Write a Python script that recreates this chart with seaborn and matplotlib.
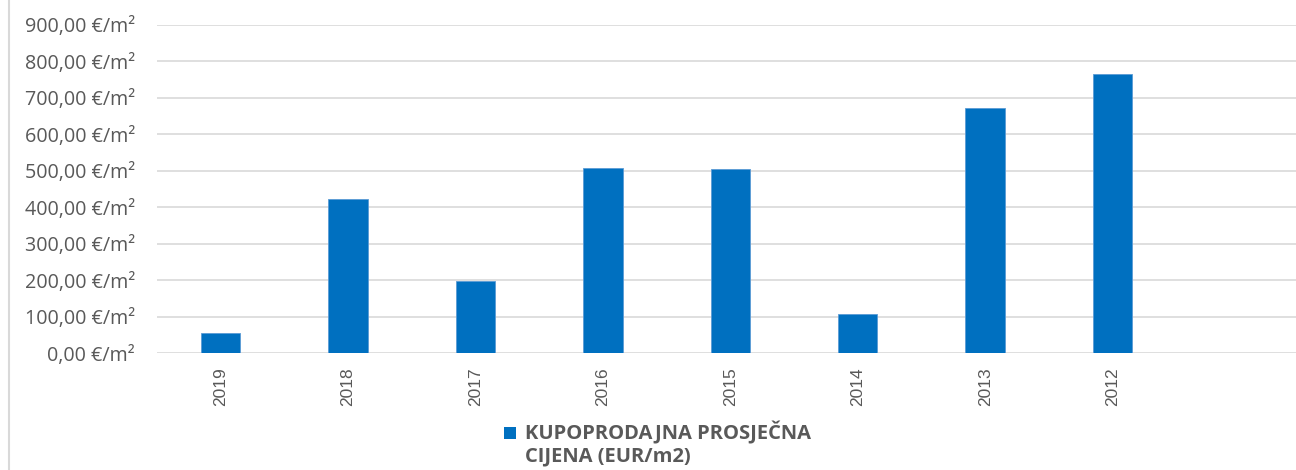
import matplotlib
matplotlib.use("Agg")
import matplotlib.pyplot as plt
import pandas as pd
import seaborn as sns
from matplotlib.lines import Line2D
from matplotlib.patches import Rectangle

# Data
years = ["2019", "2018", "2017", "2016", "2015", "2014", "2013", "2012"]
prices = [56.5, 423, 198, 507, 504, 107.5, 671.5, 766.5]
y_ticks = [0, 100, 200, 300, 400, 500, 600, 700, 800, 900]
series_label = "KUPOPRODAJNA PROSJEČNA\nCIJENA (EUR/m2)"

bar_color = "#0070C0"
text_color = "#595959"

df = pd.DataFrame({"year": years, "price": prices})

sns.set_style("white")
plt.rcParams["font.family"] = ["Open Sans", "DejaVu Sans"]

fig = plt.figure(figsize=(12.96, 4.70), dpi=100)
ax = fig.add_axes([157 / 1296, 1 - 353.3 / 470, 1 - 157 / 1296, (353.3 - 25) / 470])

sns.barplot(data=df, x="year", y="price", color=bar_color, width=0.31,
            saturation=1, edgecolor="#5B9BD5", linewidth=0.6, ax=ax)

ax.set_ylim(0, 900)
ax.set_xlim(-0.5, 8.44)
ax.set_yticks(y_ticks)
ax.set_yticklabels([f"{v},00 €/m²" for v in y_ticks], color=text_color, fontsize=14.2)
ax.yaxis.grid(True, color="#D9D9D9", linewidth=1.2)
ax.set_axisbelow(True)
for s in ax.spines.values():
    s.set_visible(False)
ax.tick_params(axis="both", length=0)
ax.tick_params(axis="y", pad=16)
ax.tick_params(axis="x", pad=10)
ax.set_xlabel("")
ax.set_ylabel("")
for lbl in ax.get_xticklabels():
    lbl.set_rotation(90)
    lbl.set_family(["Liberation Sans Narrow", "Liberation Sans", "DejaVu Sans"])
    lbl.set_fontsize(12.5)
    lbl.set_color(text_color)

# Left frame line of the chart area
fig.add_artist(Line2D([9 / 1296, 9 / 1296], [0, 1], color="#D9D9D9", linewidth=1.5))

# Legend: square key plus two-line bold label
fig.add_artist(Rectangle((504 / 1296, 1 - 439 / 470), 12 / 1296, 12 / 470,
                         facecolor=bar_color, edgecolor="none"))
fig.text(525 / 1296, 1 - 421 / 470, series_label, ha="left", va="top",
         fontsize=14.5, fontweight="bold", color=text_color, linespacing=1.15)

fig.savefig("out.png", dpi=100)
